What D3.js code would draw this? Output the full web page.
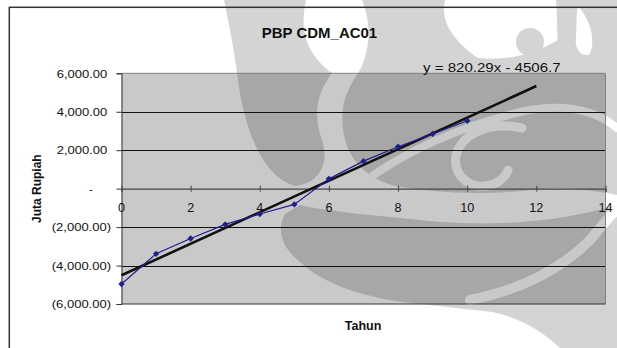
<!DOCTYPE html>
<html>
<head>
<meta charset="utf-8">
<script src="https://cdn.jsdelivr.net/npm/d3@7"></script>
<style>
  body { margin: 0; background: #fff; }
  svg { display: block; }
  text { font-family: "Liberation Sans", Arial, sans-serif; fill: #111; }
</style>
</head>
<body>
<svg id="chart" width="617" height="348"></svg>
<script>
// ---- data ----
const years = [0, 1, 2, 3, 4, 5, 6, 7, 8, 9, 10];
const pbpValues = [-4960, -3390, -2590, -1860, -1320, -820, 510, 1430, 2180, 2850, 3530];
const trendSlope = 820.29;
const trendIntercept = -4506.7;
const trendYears = [0, 12];
const xTickValues = [0, 2, 4, 6, 8, 10, 12, 14];
const yTickValues = [-6000, -4000, -2000, 0, 2000, 4000, 6000];
const chartTitle = "PBP CDM_AC01";
const xAxisTitle = "Tahun";
const yAxisTitle = "Juta Rupiah";
const equationLabel = "y = 820.29x - 4506.7";

// ---- layout ----
const W = 617, H = 348;
const plot = { left: 121.5, right: 605.5, top: 73.3, bottom: 304 };
const svg = d3.select("#chart");

const x = d3.scaleLinear().domain([0, 14]).range([plot.left, plot.right]);
const y = d3.scaleLinear().domain([-6000, 6000]).range([plot.bottom, plot.top]);

// accounting style number format: 6,000.00 / - / (2,000.00)
const num = d3.format(",.2f");
const acct = v => v === 0 ? "-" : v < 0 ? "(" + num(-v) + ")" : num(v);

// horizontally stretched text helper
function label(g, txt, px, py, opts) {
  const t = g.append("text")
    .attr("transform", `translate(${px},${py}) scale(${opts.sx || 1},1)`)
    .attr("text-anchor", opts.anchor || "start")
    .style("font-size", opts.size + "px")
    .style("font-weight", opts.bold ? "bold" : "normal")
    .text(txt);
  return t;
}

// page background
svg.append("rect").attr("width", W).attr("height", H).attr("fill", "#fff");

// plot area fill
svg.append("rect")
  .attr("x", plot.left).attr("y", plot.top)
  .attr("width", plot.right - plot.left).attr("height", plot.bottom - plot.top)
  .attr("fill", "#c9c9c9");

// faint background emblem
const defs = svg.append("defs");
const mask = defs.append("mask").attr("id", "emblem");
const darkShapes = [
  "M224,0 L306,0 C300,28 304,52 332,73 C318,92 312,112 322,140 C330,165 318,184 295,186 C262,176 244,130 237,73 C233,42 228,20 224,0 Z",
  "M362,0 L445,0 C440,20 452,40 478,58 C520,62 565,48 600,0 L617,0 L617,195 C590,190 560,186 530,190 C480,196 430,192 395,186 C372,180 352,165 345,140 C338,110 345,92 360,70 C372,45 370,20 362,0 Z",
  "M300,205 C330,212 380,216 440,222 C500,226 560,222 617,205 L617,348 L560,348 C540,330 520,318 492,312 L420,304 C380,300 330,290 300,262 C282,248 276,230 285,214 Z"
];
const lightStrokes = [
  { d: "M522,128 C478,118 446,146 458,172 C470,194 502,188 508,170", w: 9 },
  { d: "M372,176 C410,150 455,128 520,112 C565,102 595,110 617,128", w: 8 },
  { d: "M470,300 C520,290 560,270 590,240 C600,228 610,215 617,210", w: 10 }
];
mask.append("rect").attr("width", W).attr("height", H).attr("fill", "#000");
darkShapes.forEach(d => mask.append("path").attr("d", d).attr("fill", "#fff"));
lightStrokes.forEach(s => mask.append("path").attr("d", s.d).attr("fill", "none")
  .attr("stroke", "#000").attr("stroke-width", s.w).attr("stroke-linecap", "round"));
mask.append("circle").attr("cx", 530).attr("cy", 42).attr("r", 14).attr("fill", "#fff");
mask.append("path").attr("d", "M556,0 L602,0 C598,25 600,45 598,60 L560,60 C556,40 558,20 556,0 Z").attr("fill", "#fff");
mask.append("path").attr("d", "M578,6 C590,20 596,38 590,54 C582,58 574,50 576,36 C577,24 576,14 578,6 Z").attr("fill", "#000");

svg.append("rect").attr("width", W).attr("height", H)
  .attr("fill", "#000").attr("fill-opacity", 0.17)
  .attr("mask", "url(#emblem)");

// horizontal gridlines
const grid = svg.append("g");
yTickValues.filter(v => v !== 0 && Math.abs(v) !== 6000).forEach(v => {
  grid.append("line")
    .attr("x1", plot.left).attr("x2", plot.right)
    .attr("y1", Math.round(y(v)) + 0.5).attr("y2", Math.round(y(v)) + 0.5)
    .attr("stroke", "#111").attr("stroke-width", 1);
});

// plot border (top / right grey, bottom dark)
svg.append("line").attr("x1", plot.left).attr("x2", plot.right)
  .attr("y1", plot.top).attr("y2", plot.top).attr("stroke", "#808080");
svg.append("line").attr("x1", plot.right).attr("x2", plot.right)
  .attr("y1", plot.top).attr("y2", plot.bottom).attr("stroke", "#808080");
svg.append("line").attr("x1", plot.left).attr("x2", plot.right)
  .attr("y1", plot.bottom).attr("y2", plot.bottom).attr("stroke", "#333");

// y axis
const yAxis = d3.axisLeft(y).tickValues(yTickValues).tickSize(5).tickFormat("");
const yg = svg.append("g").attr("transform", `translate(${plot.left},0)`).call(yAxis);
yg.select(".domain").attr("stroke", "#333");
yg.selectAll(".tick line").attr("stroke", "#333");
yTickValues.forEach(v => {
  const s = acct(v);
  if (v === 0) label(svg, s, 91, y(v) + 4, { size: 11.5, anchor: "middle" });
  else label(svg, s, v < 0 ? 111 : 107.3, y(v) + 4.2, { size: 11.5, anchor: "end", sx: 1.13 });
});

// x axis through zero
const xAxis = d3.axisBottom(x).tickValues(xTickValues).tickSize(3).tickFormat("");
const xg = svg.append("g").attr("transform", `translate(0,${y(0)})`).call(xAxis);
xg.select(".domain").attr("stroke", "#444").attr("stroke-width", 1.2);
xg.selectAll(".tick line").attr("stroke", "#444").attr("y1", -3);
xTickValues.forEach(v => label(svg, String(v), x(v), y(0) + 23, { size: 12, anchor: "middle", sx: 1.05 }));

// trendline
svg.append("line")
  .attr("x1", x(trendYears[0])).attr("y1", y(trendSlope * trendYears[0] + trendIntercept))
  .attr("x2", x(trendYears[1])).attr("y2", y(trendSlope * trendYears[1] + trendIntercept))
  .attr("stroke", "#111").attr("stroke-width", 2.6);

// series line + markers
const pts = years.map((t, i) => [t, pbpValues[i]]);
svg.append("path")
  .attr("d", d3.line().x(d => x(d[0])).y(d => y(d[1]))(pts))
  .attr("fill", "none").attr("stroke", "#1f1f8f").attr("stroke-width", 1.2);
svg.append("g").selectAll("path").data(pts).join("path")
  .attr("transform", d => `translate(${x(d[0])},${y(d[1])})`)
  .attr("d", d3.symbol().type(d3.symbolDiamond2).size(26))
  .attr("fill", "#1f1f8f");

// titles
label(svg, chartTitle, 319.5, 37.7, { size: 14, bold: true, anchor: "middle", sx: 1.07 });
label(svg, equationLabel, 491.8, 71.7, { size: 13, anchor: "middle", sx: 1.16 });
label(svg, xAxisTitle, 363, 330, { size: 12.5, bold: true, anchor: "middle" });
svg.append("text")
  .attr("transform", `translate(40.5,${(plot.top + plot.bottom) / 2}) rotate(-90)`)
  .attr("text-anchor", "middle")
  .style("font-size", "12px").style("font-weight", "bold")
  .text(yAxisTitle);

// outer chart frame (runs past the right and bottom edges)
svg.append("rect")
  .attr("x", 9.3).attr("y", 7.3).attr("width", 700).attr("height", 500)
  .attr("fill", "none").attr("stroke", "#333").attr("stroke-width", 1.5);
</script>
</body>
</html>
